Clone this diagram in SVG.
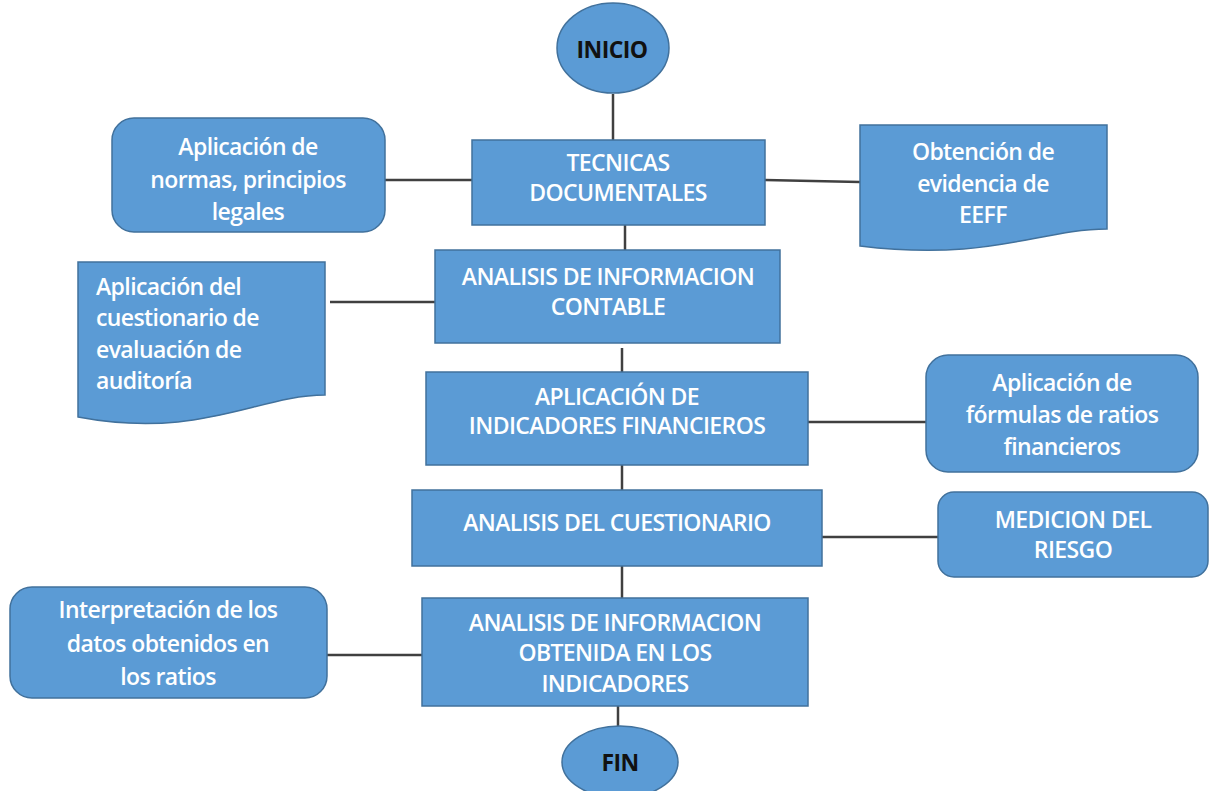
<svg xmlns="http://www.w3.org/2000/svg" width="1209" height="791" viewBox="0 0 1209 791">
<style>
.n{fill:#5B9BD5;stroke:#41719C;stroke-width:1.5}
.t{fill:#fff;font-family:"Open Sans","DejaVu Sans",sans-serif;font-size:23px;font-weight:600;text-anchor:middle;letter-spacing:-0.6px}
.tl{text-anchor:start}
.d{fill:#111;font-family:"Open Sans","DejaVu Sans",sans-serif;font-size:23px;font-weight:bold;text-anchor:middle;letter-spacing:-0.6px}
.c{stroke:#404040;stroke-width:2.5;fill:none}
</style>
<rect width="1209" height="791" fill="#fff"/>
<g id="connectors">
<line class="c" x1="613" y1="94" x2="613" y2="140"/>
<line class="c" x1="385" y1="180" x2="472" y2="180"/>
<line class="c" x1="765" y1="180" x2="860" y2="182"/>
<line class="c" x1="625" y1="225" x2="625" y2="250"/>
<line class="c" x1="330" y1="302" x2="435" y2="302"/>
<line class="c" x1="622" y1="348" x2="622" y2="372"/>
<line class="c" x1="808" y1="422" x2="926" y2="422"/>
<line class="c" x1="622" y1="465" x2="622" y2="490"/>
<line class="c" x1="822" y1="537" x2="938" y2="537"/>
<line class="c" x1="622" y1="566" x2="622" y2="598"/>
<line class="c" x1="327" y1="655" x2="422" y2="655"/>
<line class="c" x1="618" y1="706" x2="618" y2="728"/>
</g>
<g id="inicio">
<ellipse class="n" cx="613" cy="48" rx="56" ry="45"/>
<text class="d" x="612" y="58">INICIO</text>
</g>
<g id="tecnicas">
<rect class="n" x="472" y="140" width="293" height="85"/>
<text class="t" x="618" y="171">TECNICAS</text>
<text class="t" x="618" y="201">DOCUMENTALES</text>
</g>
<g id="normas">
<rect class="n" x="112" y="118" width="273" height="114" rx="22"/>
<text class="t" x="248" y="155">Aplicación de</text>
<text class="t" x="248" y="188">normas, principios</text>
<text class="t" x="248" y="220">legales</text>
</g>
<g id="evidencia">
<path class="n" d="M860,125 H1107 V229 C1040,229 990,262 860,246 Z"/>
<text class="t" x="983" y="160">Obtención de</text>
<text class="t" x="983" y="192">evidencia de</text>
<text class="t" x="983" y="223">EEFF</text>
</g>
<g id="analisis-contable">
<rect class="n" x="435" y="250" width="345" height="93"/>
<text class="t" x="608" y="285">ANALISIS DE INFORMACION</text>
<text class="t" x="608" y="315">CONTABLE</text>
</g>
<g id="cuestionario-doc">
<path class="n" d="M78,262 H325 V395 C258,395 200,440 78,417 Z"/>
<text class="t tl" x="96" y="295">Aplicación del</text>
<text class="t tl" x="96" y="326">cuestionario de</text>
<text class="t tl" x="96" y="358">evaluación de</text>
<text class="t tl" x="96" y="389">auditoría</text>
</g>
<g id="indicadores">
<rect class="n" x="426" y="372" width="382" height="93"/>
<text class="t" x="617" y="405">APLICACIÓN DE</text>
<text class="t" x="617" y="434">INDICADORES FINANCIEROS</text>
</g>
<g id="formulas">
<rect class="n" x="926" y="355" width="272" height="117" rx="22"/>
<text class="t" x="1062" y="391">Aplicación de</text>
<text class="t" x="1062" y="423">fórmulas de ratios</text>
<text class="t" x="1062" y="455">financieros</text>
</g>
<g id="analisis-cuestionario">
<rect class="n" x="412" y="490" width="410" height="76"/>
<text class="t" x="617" y="531">ANALISIS DEL CUESTIONARIO</text>
</g>
<g id="medicion">
<rect class="n" x="938" y="492" width="270" height="85" rx="16"/>
<text class="t" x="1073" y="528">MEDICION DEL</text>
<text class="t" x="1073" y="558">RIESGO</text>
</g>
<g id="analisis-obtenida">
<rect class="n" x="422" y="598" width="386" height="108"/>
<text class="t" x="615" y="631">ANALISIS DE INFORMACION</text>
<text class="t" x="615" y="661">OBTENIDA EN LOS</text>
<text class="t" x="615" y="692">INDICADORES</text>
</g>
<g id="interpretacion">
<rect class="n" x="10" y="587" width="317" height="111" rx="22"/>
<text class="t" x="168" y="618">Interpretación de los</text>
<text class="t" x="168" y="652">datos obtenidos en</text>
<text class="t" x="168" y="685">los ratios</text>
</g>
<g id="fin">
<ellipse class="n" cx="620" cy="762" rx="58" ry="36"/>
<text class="d" x="620" y="771">FIN</text>
</g>
</svg>
